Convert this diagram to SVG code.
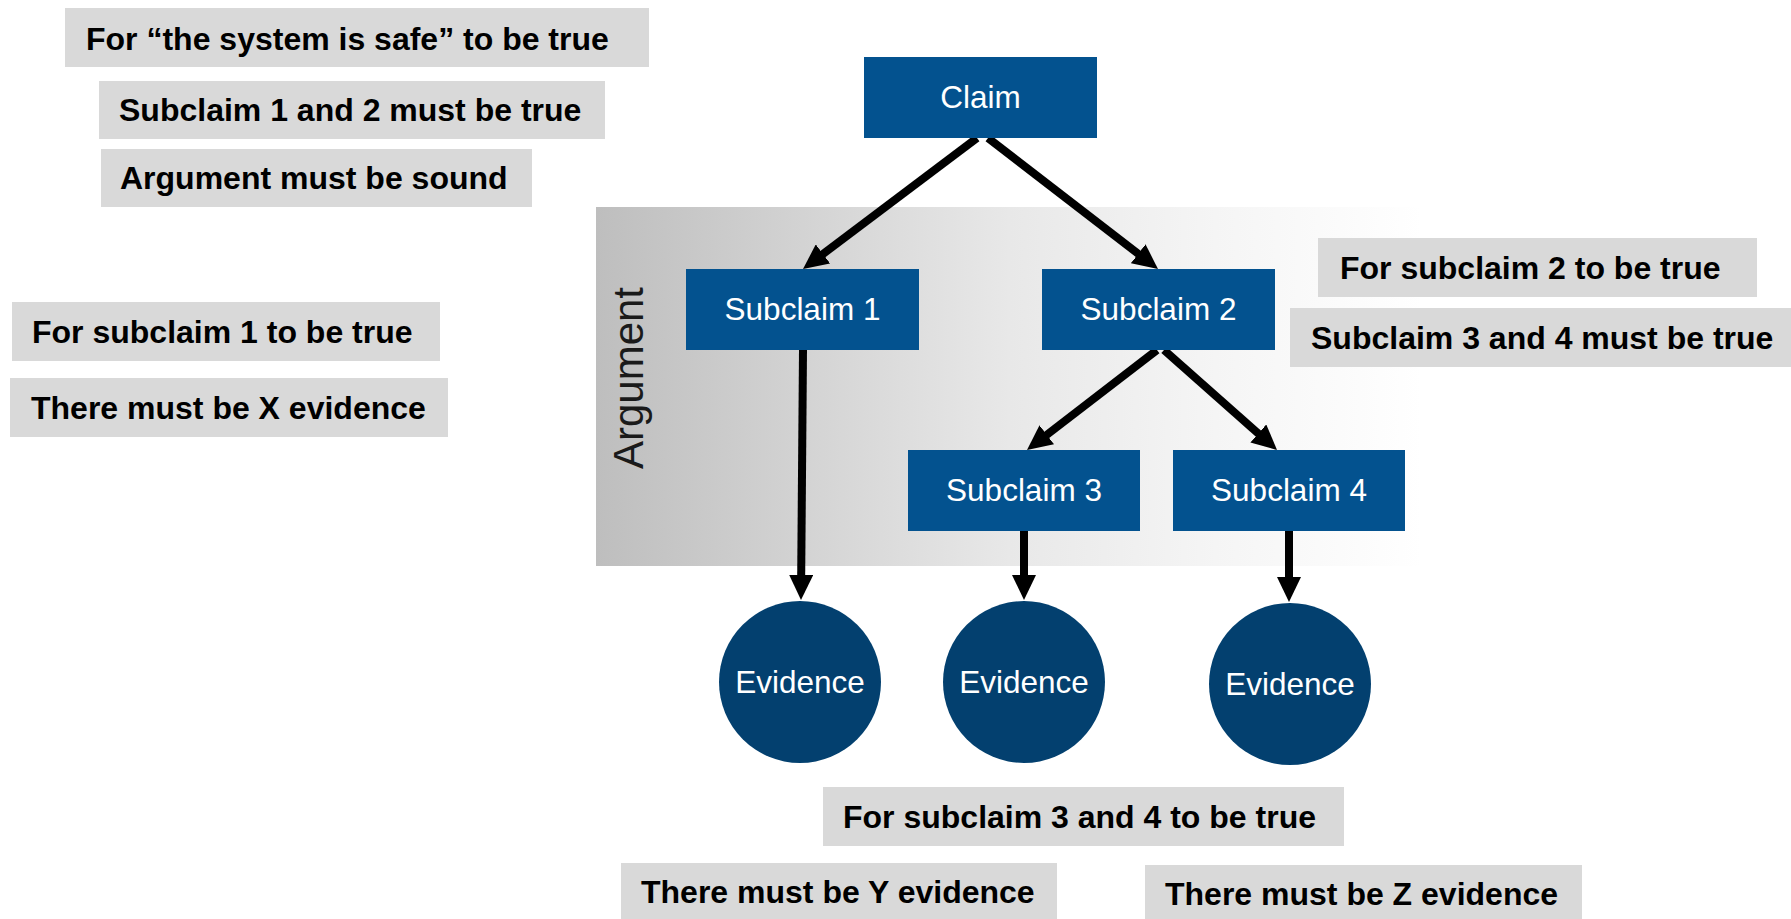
<svg xmlns="http://www.w3.org/2000/svg" width="1791" height="919" viewBox="0 0 1791 919">
  <style>
    .lbl { fill: #d9d9d9; }
    .lt { font-family: "Liberation Sans", Arial, sans-serif; font-weight: bold; font-size: 32px; fill: #000; }
    .box { fill: #03528f; }
    .ev { fill: #03406f; }
    .nt { font-family: "Liberation Sans", Arial, sans-serif; font-size: 31.5px; fill: #fff; text-anchor: middle; }
    .arr { stroke: #000; stroke-width: 8; fill: none; marker-end: url(#ah); }
  </style>
  <defs>
    <linearGradient id="argGrad" x1="0" y1="0" x2="1" y2="0">
      <stop offset="0" stop-color="#bebebe"/>
      <stop offset="0.25" stop-color="#d3d3d3"/>
      <stop offset="0.5" stop-color="#e8e8e8"/>
      <stop offset="0.75" stop-color="#f5f5f5"/>
      <stop offset="1" stop-color="#ffffff"/>
    </linearGradient>
    <marker id="ah" viewBox="0 0 25 24" refX="12" refY="12" markerWidth="25" markerHeight="24" markerUnits="userSpaceOnUse" orient="auto">
      <path d="M0,0 L25,12 L0,24 Z" fill="#000"/>
    </marker>
  </defs>

  <g id="argument">
    <rect x="596" y="207" width="826" height="359" fill="url(#argGrad)"/>
    <text x="0" y="0" transform="translate(643,378) rotate(-90)" font-family="Liberation Sans, Arial, sans-serif" font-size="42" fill="#1a1a1a" text-anchor="middle">Argument</text>
  </g>

  <g id="connectors">
    <line class="arr" x1="977" y1="138" x2="813.4" y2="261.2"/>
    <line class="arr" x1="988" y1="138" x2="1147.7" y2="261.1"/>
    <line class="arr" x1="803" y1="350" x2="801.1" y2="587"/>
    <line class="arr" x1="1157" y1="350" x2="1037.3" y2="442.1"/>
    <line class="arr" x1="1164" y1="350" x2="1267.3" y2="441.4"/>
    <line class="arr" x1="1024" y1="531" x2="1024" y2="587"/>
    <line class="arr" x1="1289" y1="531" x2="1289" y2="589"/>
  </g>

  <g id="claim">
    <rect class="box" x="864" y="57" width="233" height="81"/>
    <text class="nt" x="980.5" y="108">Claim</text>
  </g>
  <g id="subclaim1">
    <rect class="box" x="686" y="269" width="233" height="81"/>
    <text class="nt" x="802.5" y="320">Subclaim 1</text>
  </g>
  <g id="subclaim2">
    <rect class="box" x="1042" y="269" width="233" height="81"/>
    <text class="nt" x="1158.5" y="320">Subclaim 2</text>
  </g>
  <g id="subclaim3">
    <rect class="box" x="908" y="450" width="232" height="81"/>
    <text class="nt" x="1024" y="501">Subclaim 3</text>
  </g>
  <g id="subclaim4">
    <rect class="box" x="1173" y="450" width="232" height="81"/>
    <text class="nt" x="1289" y="501">Subclaim 4</text>
  </g>
  <g id="evidence1">
    <circle class="ev" cx="800" cy="682" r="81"/>
    <text class="nt" x="800" y="693">Evidence</text>
  </g>
  <g id="evidence2">
    <circle class="ev" cx="1024" cy="682" r="81"/>
    <text class="nt" x="1024" y="693">Evidence</text>
  </g>
  <g id="evidence3">
    <circle class="ev" cx="1290" cy="684" r="81"/>
    <text class="nt" x="1290" y="695">Evidence</text>
  </g>

  <g id="label-system-safe">
    <rect class="lbl" x="65" y="8" width="584" height="59"/>
    <text class="lt" x="86" y="50">For “the system is safe” to be true</text>
  </g>
  <g id="label-sub12">
    <rect class="lbl" x="99" y="81" width="506" height="58"/>
    <text class="lt" x="119" y="121">Subclaim 1 and 2 must be true</text>
  </g>
  <g id="label-sound">
    <rect class="lbl" x="101" y="149" width="431" height="58"/>
    <text class="lt" x="120" y="189">Argument must be sound</text>
  </g>
  <g id="label-for-sub1">
    <rect class="lbl" x="12" y="302" width="428" height="59"/>
    <text class="lt" x="32" y="343">For subclaim 1 to be true</text>
  </g>
  <g id="label-x">
    <rect class="lbl" x="10" y="378" width="438" height="59"/>
    <text class="lt" x="31" y="419">There must be X evidence</text>
  </g>
  <g id="label-for-sub2">
    <rect class="lbl" x="1318" y="238" width="439" height="59"/>
    <text class="lt" x="1340" y="279">For subclaim 2 to be true</text>
  </g>
  <g id="label-sub34">
    <rect class="lbl" x="1290" y="308" width="501" height="59"/>
    <text class="lt" x="1311" y="349">Subclaim 3 and 4 must be true</text>
  </g>
  <g id="label-for-sub34">
    <rect class="lbl" x="823" y="787" width="521" height="59"/>
    <text class="lt" x="843" y="828">For subclaim 3 and 4 to be true</text>
  </g>
  <g id="label-y">
    <rect class="lbl" x="621" y="863" width="436" height="59"/>
    <text class="lt" x="641" y="903">There must be Y evidence</text>
  </g>
  <g id="label-z">
    <rect class="lbl" x="1145" y="865" width="437" height="59"/>
    <text class="lt" x="1165" y="905">There must be Z evidence</text>
  </g>
</svg>
